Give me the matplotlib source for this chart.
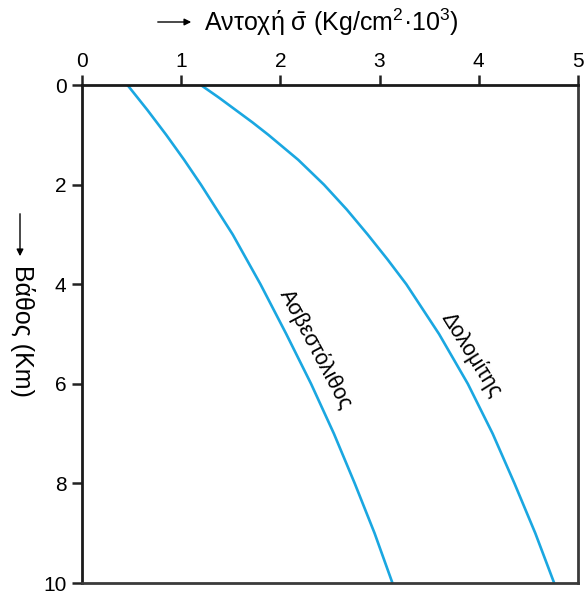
import matplotlib.pyplot as plt

plt.rcParams['font.family'] = ['Liberation Sans', 'DejaVu Sans']
plt.rcParams['mathtext.fontset'] = 'custom'
plt.rcParams['mathtext.rm'] = 'Liberation Sans'
plt.rcParams['mathtext.it'] = 'Liberation Sans'

# depth (Km) and strength (Kg/cm2 x 10^3)
depth_lime = [0, 0.5, 1, 1.5, 2, 2.5, 3, 3.5, 4, 5, 6, 7, 8, 9, 10]
lime = [0.46, 0.66, 0.85, 1.03, 1.20, 1.36, 1.52, 1.66, 1.80, 2.06, 2.31, 2.54, 2.75, 2.95, 3.13]
depth_dolo = [0, 0.25, 0.5, 0.75, 1, 1.5, 2, 2.5, 3, 3.5, 4, 5, 6, 7, 8, 9, 10]
dolo = [1.20, 1.38, 1.55, 1.72, 1.88, 2.18, 2.44, 2.67, 2.88, 3.08, 3.27, 3.60, 3.89,
        4.14, 4.36, 4.57, 4.76]

xticks = [0, 1, 2, 3, 4, 5]
yticks = [0, 2, 4, 6, 8, 10]

fig = plt.figure(figsize=(5.85, 5.91), dpi=100)
ax = fig.add_axes([0.140, 0.0135, 0.848, 0.8425])

blue = '#1aa7e1'
ax.plot(lime, depth_lime, color=blue, lw=1.9, solid_capstyle='butt')
ax.plot(dolo, depth_dolo, color=blue, lw=1.9, solid_capstyle='butt')

ax.set_xlim(0, 5)
ax.set_ylim(10, 0)
ax.xaxis.tick_top()
ax.set_xticks(xticks)
ax.set_yticks(yticks)
ax.tick_params(axis='both', labelsize=15, width=1.8, length=7, color='#222222')
ax.tick_params(axis='x', pad=3)
ax.tick_params(axis='y', pad=4)

for s in ['left', 'top']:
    ax.spines[s].set_linewidth(2)
    ax.spines[s].set_color('#1a1a1a')
for s in ['right', 'bottom']:
    ax.spines[s].set_linewidth(2)
    ax.spines[s].set_color('#3a3a3a')

ax.text(2.36, 5.3, 'Ασβεστόλιθος', rotation=-62, ha='center', va='center',
        fontsize=15.5, rotation_mode='anchor')
ax.text(3.92, 5.42, 'Δολομίτης', rotation=-58, ha='center', va='center',
        fontsize=15.5, rotation_mode='anchor')

# axis titles with arrows
fig.text(331 / 585, 1 - 22 / 591, r'Αντοχή $\bar{\mathrm{σ}}$ (Kg/cm$^2$·10$^3$)',
         ha='center', va='center', fontsize=18)
ax.annotate('', xy=(194 / 585, 1 - 22 / 591), xytext=(155 / 585, 1 - 22 / 591),
            xycoords='figure fraction',
            arrowprops=dict(arrowstyle='-|>', color='black', lw=1, mutation_scale=10))

fig.text(22 / 585, 1 - 331 / 591, 'Βάθος (Km)', rotation=-90,
         ha='center', va='center', fontsize=18)
ax.annotate('', xy=(20 / 585, 1 - 259 / 591), xytext=(20 / 585, 1 - 211 / 591),
            xycoords='figure fraction',
            arrowprops=dict(arrowstyle='-|>', color='black', lw=1, mutation_scale=10))

fig.savefig('out.png', dpi=100)
